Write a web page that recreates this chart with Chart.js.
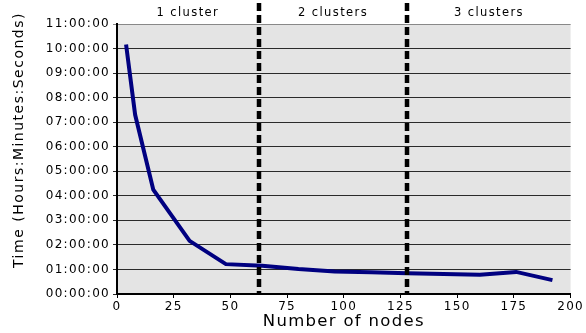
<!DOCTYPE html>
<html>
<head>
<meta charset="utf-8">
<script src="https://cdn.jsdelivr.net/npm/chart.js@4/dist/chart.umd.min.js"></script>
<style>
  html, body { margin: 0; padding: 0; background: #fff; }
  #wrap { width: 586px; height: 333px; }
</style>
</head>
<body>
<div id="wrap"><canvas id="time-chart" width="586" height="333"></canvas></div>
<script>
const nodeCounts = [4, 8, 16, 32, 48, 64, 80, 96, 112, 128, 144, 160, 176, 192];
const runTimes = ['10:10:00', '07:18:00', '04:15:00', '02:10:00', '01:13:00', '01:09:00', '01:01:00',
  '00:55:00', '00:53:00', '00:51:00', '00:49:00', '00:47:00', '00:54:00', '00:34:00'];
const clusterBounds = [62.5, 128];
const clusterLabels = ['1 cluster', '2 clusters', '3 clusters'];
const xTitle = 'Number of nodes';
const yTitle = 'Time (Hours:Minutes:Seconds)';

function toSeconds(t) {
  const p = t.split(':').map(Number);
  return p[0] * 3600 + p[1] * 60 + p[2];
}

function pad2(n) {
  return String(n).padStart(2, '0');
}

function formatTime(sec) {
  const h = Math.floor(sec / 3600);
  const m = Math.floor((sec % 3600) / 60);
  const s = Math.round(sec % 60);
  return pad2(h) + ':' + pad2(m) + ':' + pad2(s);
}

// the source text is drawn wide, letter spacing gets close to it
const spacingPlugin = {
  id: 'spacing',
  beforeUpdate(chart) { chart.ctx.letterSpacing = '1.3px'; },
  beforeDraw(chart) { chart.ctx.letterSpacing = '1.3px'; }
};

const plotBackground = {
  id: 'plotBackground',
  beforeDraw(chart) {
    const { ctx, chartArea: a } = chart;
    ctx.save();
    ctx.fillStyle = '#e4e4e4';
    ctx.fillRect(a.left, a.top, a.right - a.left, a.bottom - a.top);
    ctx.restore();
  }
};

const clusterMarks = {
  id: 'clusterMarks',
  afterDatasetsDraw(chart) {
    const { ctx, chartArea: a, scales: { x } } = chart;
    ctx.save();
    ctx.strokeStyle = '#000';
    ctx.lineWidth = 4.5;
    ctx.setLineDash([8, 4]);
    clusterBounds.forEach(b => {
      const px = Math.round(x.getPixelForValue(b));
      ctx.beginPath();
      ctx.moveTo(px, 3);
      ctx.lineTo(px, a.bottom);
      ctx.stroke();
    });
    ctx.setLineDash([]);

    const edges = [a.left].concat(clusterBounds.map(b => x.getPixelForValue(b)), [a.right]);
    ctx.fillStyle = '#000';
    ctx.font = '11.5px "DejaVu Sans"';
    ctx.letterSpacing = '1.4px';
    ctx.textAlign = 'center';
    ctx.textBaseline = 'middle';
    clusterLabels.forEach((label, i) => {
      ctx.fillText(label, (edges[i] + edges[i + 1]) / 2, 13);
    });

    ctx.font = '14px "DejaVu Sans"';
    ctx.letterSpacing = '1.5px';
    ctx.translate(19, 140);
    ctx.rotate(-Math.PI / 2);
    ctx.fillText(yTitle, 0, 0);
    ctx.restore();
  }
};

function renderTimeChart() {
  const ctx = document.getElementById('time-chart').getContext('2d');
  return new Chart(ctx, {
    type: 'line',
    data: {
      datasets: [{
        label: 'Time',
        data: nodeCounts.map((n, i) => ({ x: n, y: toSeconds(runTimes[i]) })),
        borderColor: '#000080',
        backgroundColor: '#000080',
        borderWidth: 4,
        pointRadius: 0,
        tension: 0,
        fill: false
      }]
    },
    options: {
      responsive: false,
      devicePixelRatio: 1,
      animation: false,
      layout: { padding: { top: 24, right: 13, left: 0, bottom: 0 } },
      plugins: {
        legend: { display: false },
        tooltip: { enabled: false }
      },
      scales: {
        x: {
          type: 'linear',
          min: 0,
          max: 200,
          afterFit(s) { s.height = 39; },
          ticks: {
            stepSize: 25,
            color: '#000',
            padding: 2,
            font: { family: 'DejaVu Sans', size: 12 }
          },
          grid: { drawOnChartArea: false, drawTicks: true, tickLength: 4, color: '#000' },
          border: { color: '#000', width: 2 },
          title: {
            display: true,
            text: xTitle,
            color: '#000',
            padding: { top: 0, bottom: 1 },
            font: { family: 'DejaVu Sans', size: 16.5 }
          }
        },
        y: {
          min: 0,
          max: 11 * 3600,
          afterFit(s) { s.width = 117; },
          ticks: {
            stepSize: 3600,
            color: '#000',
            padding: 3,
            font: { family: 'DejaVu Sans', size: 12 },
            callback: v => formatTime(v)
          },
          grid: {
            color: c => (c.tick && c.tick.value === 11 * 3600 ? '#888' : '#2a2a2a'),
            lineWidth: 1,
            tickLength: 4
          },
          border: { color: '#000', width: 2 }
        }
      }
    },
    plugins: [spacingPlugin, plotBackground, clusterMarks]
  });
}

renderTimeChart();
</script>
</body>
</html>
